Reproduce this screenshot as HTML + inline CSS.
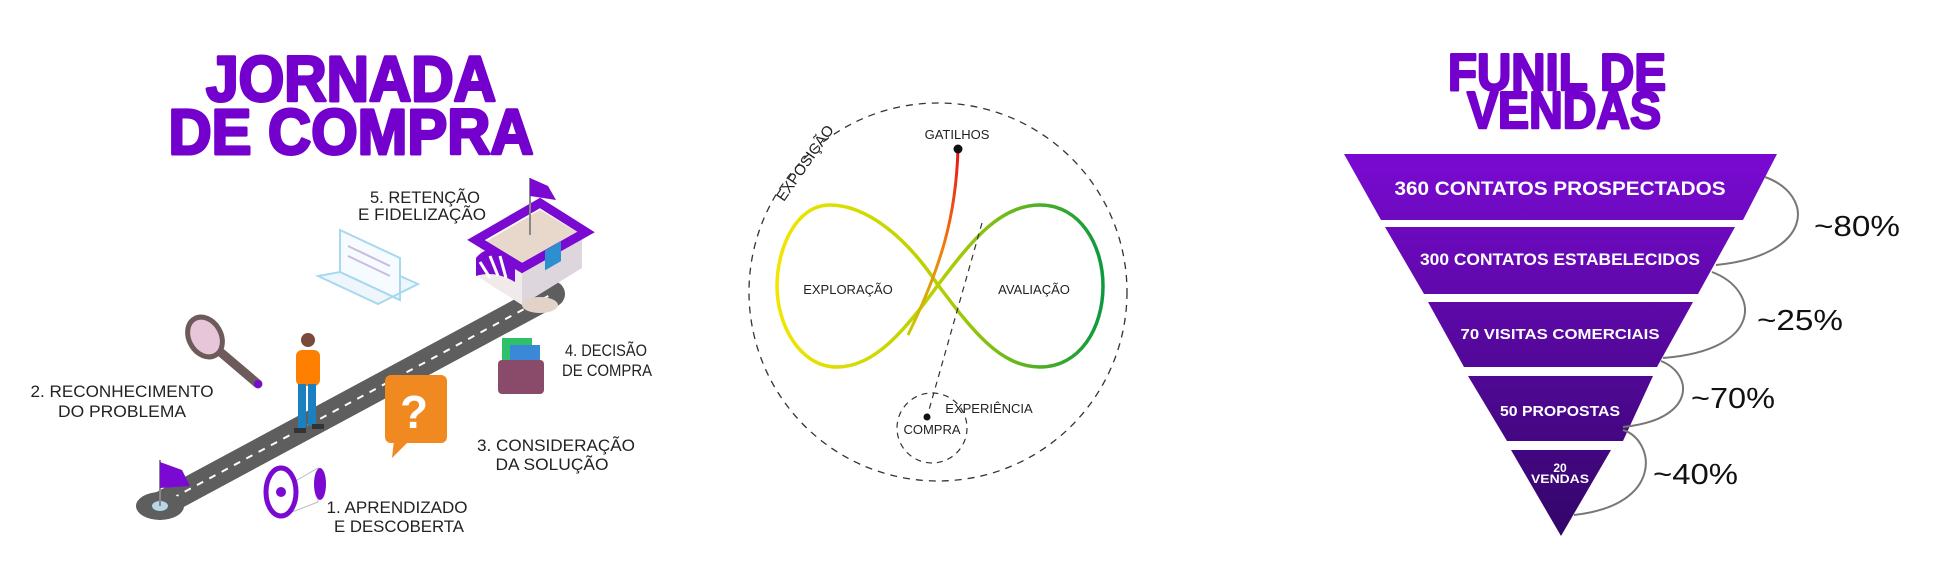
<!DOCTYPE html>
<html><head><meta charset="utf-8"><style>
html,body{margin:0;padding:0;background:#fff;}
svg{display:block;}
text{font-family:"Liberation Sans",Arial,sans-serif;}
</style></head><body>
<svg width="1953" height="583" viewBox="0 0 1953 583" xmlns="http://www.w3.org/2000/svg">
<defs>
<linearGradient id="inf" gradientUnits="userSpaceOnUse" x1="777" y1="0" x2="1103" y2="0">
<stop offset="0" stop-color="#f2e600"/><stop offset="0.5" stop-color="#b5d000"/><stop offset="1" stop-color="#0c9a3e"/></linearGradient>
<linearGradient id="red" gradientUnits="userSpaceOnUse" x1="0" y1="149" x2="0" y2="340">
<stop offset="0" stop-color="#e8101a"/><stop offset="0.5" stop-color="#f07a10"/><stop offset="1" stop-color="#c8d000"/></linearGradient>
<linearGradient id="fun" gradientUnits="userSpaceOnUse" x1="0" y1="154" x2="0" y2="536">
<stop offset="0" stop-color="#7a0ad2"/><stop offset="1" stop-color="#320668"/></linearGradient>
</defs>

<!-- LEFT: Jornada de compra -->
<g fill="#7300cc" stroke="#7300cc" stroke-width="3" stroke-linejoin="round" font-weight="bold">
<text x="351" y="101" text-anchor="middle" font-size="64" textLength="290" lengthAdjust="spacingAndGlyphs">JORNADA</text>
<text x="351" y="154" text-anchor="middle" font-size="64" textLength="365" lengthAdjust="spacingAndGlyphs">DE COMPRA</text>
</g>

<!-- road -->
<line x1="160" y1="505" x2="552" y2="294" stroke="#5e5e5e" stroke-width="26" stroke-linecap="round"/>
<line x1="160" y1="505" x2="552" y2="294" stroke="#fff" stroke-width="2" stroke-dasharray="7 7"/>
<ellipse cx="160" cy="506" rx="24" ry="14" fill="#5e5e5e"/>
<ellipse cx="160" cy="506" rx="8" ry="5" fill="#b9d6e6"/>
<line x1="160" y1="506" x2="160" y2="460" stroke="#888" stroke-width="2"/>
<polygon points="160,462 182,470 190,486 160,488" fill="#7a0ad2"/>

<!-- store -->
<polygon points="480,245 540,210 582,235 522,272" fill="#e8d8cc"/>
<polygon points="480,245 522,272 522,305 480,278" fill="#f0eaea"/>
<polygon points="522,272 582,235 582,268 522,305" fill="#ddd6dc"/>
<polygon points="476,240 540,203 586,232 522,268" fill="none" stroke="#7a0ad2" stroke-width="9"/>
<path d="M476,258 Q490,240 515,262 L515,282 Q495,270 476,276 Z" fill="#7a0ad2"/>
<path d="M480,262 l10,16 M490,256 l8,20 M500,256 l6,22" stroke="#fff" stroke-width="3"/>
<rect x="545" y="250" width="16" height="20" fill="#2d8fd0" transform="skewY(-30) translate(0,315)"/>
<line x1="530" y1="235" x2="530" y2="178" stroke="#888" stroke-width="2"/>
<polygon points="530,178 548,186 556,200 530,196" fill="#7a0ad2"/>
<ellipse cx="540" cy="305" rx="18" ry="8" fill="#e2d2c8"/>

<!-- laptop -->
<polygon points="340,230 400,258 400,300 340,272" fill="#f6fbff" stroke="#a8d8f0" stroke-width="2"/>
<polygon points="318,276 378,304 418,284 400,276 400,300 340,272" fill="#eef6fb" stroke="#a8d8f0" stroke-width="2"/>
<line x1="348" y1="246" x2="390" y2="266" stroke="#cbd" stroke-width="2"/>
<line x1="348" y1="256" x2="390" y2="276" stroke="#cbd" stroke-width="2"/>

<!-- magnifier -->
<line x1="218" y1="350" x2="258" y2="384" stroke="#6d5a5a" stroke-width="9" stroke-linecap="round"/>
<circle cx="258" cy="384" r="4" fill="#7a0ad2"/>
<ellipse cx="205" cy="337" rx="16" ry="21" fill="#e6c6d8" stroke="#6d5a5a" stroke-width="5" transform="rotate(-30 205 337)"/>

<!-- person -->
<circle cx="308" cy="340" r="7" fill="#7a4a3a"/>
<rect x="296" y="350" width="24" height="36" rx="6" fill="#ff8000"/>
<rect x="298" y="384" width="8" height="46" fill="#1a80c0"/>
<rect x="308" y="384" width="8" height="42" fill="#1a80c0"/>
<rect x="294" y="428" width="12" height="5" fill="#333"/>
<rect x="312" y="424" width="12" height="5" fill="#333"/>

<!-- question bubble -->
<rect x="385" y="375" width="62" height="68" rx="6" fill="#f08a20"/>
<polygon points="394,440 392,458 410,440" fill="#f08a20"/>
<text x="414" y="428" text-anchor="middle" font-size="46" font-weight="bold" fill="#fff">?</text>

<!-- wallet -->
<rect x="502" y="338" width="30" height="28" fill="#2ec06a"/>
<rect x="510" y="345" width="30" height="26" fill="#3a88d8"/>
<rect x="498" y="360" width="46" height="34" rx="4" fill="#8a4a6a"/>

<!-- megaphone -->
<polygon points="280,490 318,468 318,502 292,512" fill="#fff" stroke="#bbb" stroke-width="1"/>
<ellipse cx="281" cy="492" rx="15" ry="24" fill="#fff" stroke="#7a0ad2" stroke-width="5"/>
<circle cx="281" cy="492" r="5" fill="#7a0ad2"/>
<ellipse cx="320" cy="484" rx="6" ry="16" fill="#7a0ad2"/>

<g font-size="17" fill="#222">
<text x="425" y="203" text-anchor="middle" textLength="110" lengthAdjust="spacingAndGlyphs">5. RETENÇÃO</text>
<text x="422" y="220" text-anchor="middle" textLength="128" lengthAdjust="spacingAndGlyphs">E FIDELIZAÇÃO</text>
<text x="122" y="397" text-anchor="middle" textLength="183" lengthAdjust="spacingAndGlyphs">2. RECONHECIMENTO</text>
<text x="122" y="417" text-anchor="middle" textLength="128" lengthAdjust="spacingAndGlyphs">DO PROBLEMA</text>
<text x="565" y="356" text-anchor="start" textLength="82" lengthAdjust="spacingAndGlyphs">4. DECISÃO</text>
<text x="562" y="376" text-anchor="start" textLength="90" lengthAdjust="spacingAndGlyphs">DE COMPRA</text>
<text x="556" y="451" text-anchor="middle" textLength="158" lengthAdjust="spacingAndGlyphs">3. CONSIDERAÇÃO</text>
<text x="552" y="470" text-anchor="middle" textLength="113" lengthAdjust="spacingAndGlyphs">DA SOLUÇÃO</text>
<text x="397" y="513" text-anchor="middle" textLength="141" lengthAdjust="spacingAndGlyphs">1. APRENDIZADO</text>
<text x="399" y="532" text-anchor="middle" textLength="130" lengthAdjust="spacingAndGlyphs">E DESCOBERTA</text>
</g>

<!-- MIDDLE -->
<circle cx="938" cy="292" r="189" fill="none" stroke="#333" stroke-width="1.3" stroke-dasharray="7 6"/>
<circle cx="932" cy="428" r="35" fill="none" stroke="#333" stroke-width="1.2" stroke-dasharray="6 5"/>
<path d="M938,285 C905,235 865,205 830,205 C795,205 777,250 777,286 C777,325 800,367 837,367 C875,367 905,330 938,285 C972,240 1000,205 1040,205 C1080,205 1103,245 1103,286 C1103,328 1080,367 1040,367 C1000,367 972,330 938,285 Z" fill="none" stroke="url(#inf)" stroke-width="3.5"/>
<path d="M958,149 C956,215 942,265 908,335" fill="none" stroke="url(#red)" stroke-width="3"/>
<line x1="982" y1="223" x2="927" y2="417" stroke="#333" stroke-width="1.2" stroke-dasharray="6 5"/>
<circle cx="958" cy="149" r="4.5" fill="#111"/>
<circle cx="927" cy="417" r="3.5" fill="#111"/>
<g font-size="13" fill="#222" text-anchor="middle">
<text x="957" y="139">GATILHOS</text>
<text x="848" y="294">EXPLORAÇÃO</text>
<text x="1034" y="294">AVALIAÇÃO</text>
<text x="989" y="413">EXPERIÊNCIA</text>
<text x="932" y="434">COMPRA</text>
<text x="805" y="168" font-size="15" transform="rotate(-55 805 163)">EXPOSIÇÃO</text>
</g>

<!-- RIGHT: Funil -->
<g fill="#7300cc" stroke="#7300cc" stroke-width="2.5" stroke-linejoin="round" font-weight="bold">
<text x="1557" y="90" text-anchor="middle" font-size="52" textLength="218" lengthAdjust="spacingAndGlyphs">FUNIL DE</text>
<text x="1564" y="128" text-anchor="middle" font-size="52" textLength="194" lengthAdjust="spacingAndGlyphs">VENDAS</text>
</g>

<g fill="url(#fun)">
<polygon points="1344,154 1777,154 1743,220 1381,220"/>
<polygon points="1385,227 1735,227 1698,294 1424,294"/>
<polygon points="1428,302 1693,302 1657,367 1464,367"/>
<polygon points="1468,376 1653,376 1623,441 1507,441"/>
<polygon points="1511,450 1611,450 1561,536"/>
</g>
<g fill="#fff" font-weight="bold" text-anchor="middle">
<text x="1560" y="195" font-size="19" textLength="331" lengthAdjust="spacingAndGlyphs">360 CONTATOS PROSPECTADOS</text>
<text x="1560" y="265" font-size="17" textLength="280" lengthAdjust="spacingAndGlyphs">300 CONTATOS ESTABELECIDOS</text>
<text x="1560" y="339" font-size="15" textLength="199" lengthAdjust="spacingAndGlyphs">70 VISITAS COMERCIAIS</text>
<text x="1560" y="416" font-size="15" textLength="120" lengthAdjust="spacingAndGlyphs">50 PROPOSTAS</text>
<text x="1560" y="472" font-size="12">20</text>
<text x="1560" y="483" font-size="12" textLength="58" lengthAdjust="spacingAndGlyphs">VENDAS</text>
</g>
<g fill="none" stroke="#777" stroke-width="2">
<path d="M1765,177 C1815,195 1815,255 1716,265"/>
<path d="M1712,272 C1760,290 1765,350 1663,358"/>
<path d="M1661,361 C1695,375 1695,420 1623,427"/>
<path d="M1623,430 C1655,440 1665,505 1574,515"/>
</g>
<g font-size="29" fill="#111">
<text x="1814" y="236" textLength="86" lengthAdjust="spacingAndGlyphs">~80%</text>
<text x="1757" y="330" textLength="86" lengthAdjust="spacingAndGlyphs">~25%</text>
<text x="1691" y="408" textLength="84" lengthAdjust="spacingAndGlyphs">~70%</text>
<text x="1653" y="484" textLength="85" lengthAdjust="spacingAndGlyphs">~40%</text>
</g>
</svg>
</body></html>
